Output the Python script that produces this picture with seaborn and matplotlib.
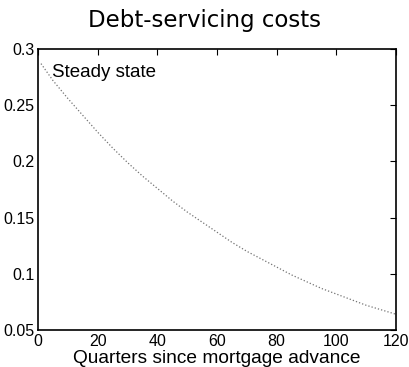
import matplotlib
matplotlib.use("Agg")
import matplotlib.pyplot as plt
import seaborn as sns
import pandas as pd

# Debt-servicing cost per quarter since the mortgage was advanced (steady state)
quarters = [1, 5, 10, 15, 20, 25, 30, 35, 40, 45, 50, 55, 60, 65, 70, 75,
            80, 85, 90, 95, 100, 105, 110, 115, 120]
cost = [0.287, 0.272, 0.256, 0.241, 0.226, 0.212, 0.199, 0.187, 0.176, 0.165,
        0.155, 0.146, 0.137, 0.128, 0.120, 0.113, 0.106, 0.099, 0.093, 0.087,
        0.082, 0.077, 0.072, 0.068, 0.064]

x_ticks = [0, 20, 40, 60, 80, 100, 120]
y_ticks = [0.05, 0.1, 0.15, 0.2, 0.25, 0.3]
y_tick_labels = ["0.05", "0.1", "0.15", "0.2", "0.25", "0.3"]

sns.set_style("white")
plt.rcParams["font.family"] = ["Liberation Sans", "DejaVu Sans"]
plt.rcParams["text.color"] = "black"
plt.rcParams["axes.labelcolor"] = "black"

df = pd.DataFrame({"quarter": quarters, "cost": cost})

fig = plt.figure(figsize=(4.09, 3.67), dpi=100)
ax = fig.add_axes([38 / 409, 1 - 330 / 367, 358 / 409, 281 / 367])

sns.lineplot(data=df, x="quarter", y="cost", ax=ax, color="0.45",
             linestyle=":", linewidth=0.9)

ax.set_xlim(0, 120)
ax.set_ylim(0.05, 0.3)
ax.set_xticks(x_ticks)
ax.set_xticklabels([str(v) for v in x_ticks])
ax.set_yticks(y_ticks)
ax.set_yticklabels(y_tick_labels)

ax.tick_params(direction="in", length=4, width=0.8, top=True, right=True,
               labelsize=11.5, colors="black")
ax.tick_params(axis="y", pad=2.5)
ax.tick_params(axis="x", pad=3)
for s in ax.spines.values():
    s.set_visible(True)
    s.set_color("black")
    s.set_linewidth(1.2)

ax.set_xlabel("Quarters since mortgage advance", fontsize=13.8, labelpad=0.5)
ax.set_ylabel("")
ax.text(4.7, 0.279, "Steady state", fontsize=13.5, va="center", ha="left")

fig.text(205 / 409, 1 - 20 / 367, "Debt-servicing costs", fontsize=16.5,
         ha="center", va="center", family=["DejaVu Sans"], color="black")

fig.savefig("out.png", dpi=100)
